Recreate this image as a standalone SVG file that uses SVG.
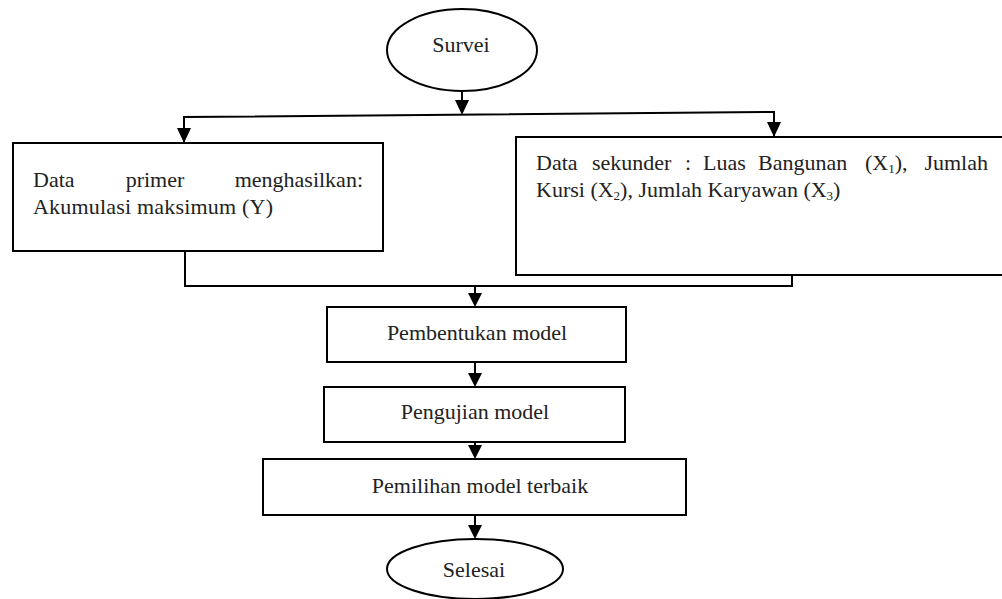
<svg xmlns="http://www.w3.org/2000/svg" width="1002" height="599" viewBox="0 0 1002 599">
<defs>
<style>
.box{fill:#fff;stroke:#000;stroke-width:2}
.ln{fill:none;stroke:#000;stroke-width:2}
.t{font-family:'Liberation Serif','Times New Roman',serif;font-size:22px;fill:#222}
.s{font-size:13px}
.c{text-anchor:middle}
.e{text-anchor:end}
.m{text-anchor:middle}
</style>
</defs>
<rect width="1002" height="599" fill="#fff"/>
<g id="connectors">
<path class="ln" d="M462,91 V101"/>
<path d="M455,100 L469,100 L462,115 Z" fill="#000"/>
<path class="ln" d="M184,143 V117 L774,112 V137"/>
<path d="M177,128 L191,128 L184,143 Z" fill="#000"/>
<path d="M767,122 L781,122 L774,137 Z" fill="#000"/>
<path class="ln" d="M185,251 V286 H792 V275"/>
<path class="ln" d="M475,286 V296"/>
<path d="M468,293 L482,293 L475,307 Z" fill="#000"/>
<path class="ln" d="M475,362 V376"/>
<path d="M468,373 L482,373 L475,387 Z" fill="#000"/>
<path class="ln" d="M475,442 V450"/>
<path d="M468,445 L482,445 L475,459 Z" fill="#000"/>
<path class="ln" d="M475,515 V528"/>
<path d="M468,525 L482,525 L475,539 Z" fill="#000"/>
</g>
<g id="survei">
<ellipse class="box" cx="462" cy="50" rx="75" ry="41"/>
<text class="t c" x="461" y="52">Survei</text>
</g>
<g id="primer">
<rect class="box" x="13" y="143" width="370" height="108"/>
<text class="t" x="33" y="187">Data</text>
<text class="t m" x="155" y="187">primer</text>
<text class="t e" x="363" y="187">menghasilkan:</text>
<text class="t" x="33" y="214" textLength="240" lengthAdjust="spacing">Akumulasi maksimum (Y)</text>
</g>
<g id="sekunder">
<rect class="box" x="516" y="137" width="500" height="138"/>
<text class="t" x="536" y="170">Data</text>
<text class="t" x="592" y="170">sekunder</text>
<text class="t" x="685" y="170">:</text>
<text class="t" x="703" y="170">Luas</text>
<text class="t" x="758" y="170">Bangunan</text>
<text class="t" x="865" y="170">(X<tspan class="s" dy="3">1</tspan><tspan dy="-3">),</tspan></text>
<text class="t e" x="988" y="170">Jumlah</text>
<text class="t" x="536" y="197">Kursi (X<tspan class="s" dy="3">2</tspan><tspan dy="-3">), Jumlah Karyawan (X</tspan><tspan class="s" dy="3">3</tspan><tspan dy="-3">)</tspan></text>
</g>
<g id="pembentukan">
<rect class="box" x="327" y="307" width="299" height="55"/>
<text class="t c" x="477" y="340">Pembentukan model</text>
</g>
<g id="pengujian">
<rect class="box" x="324" y="387" width="301" height="55"/>
<text class="t c" x="475" y="419">Pengujian model</text>
</g>
<g id="pemilihan">
<rect class="box" x="263" y="459" width="423" height="56"/>
<text class="t c" x="480" y="493">Pemilihan model terbaik</text>
</g>
<g id="selesai">
<ellipse class="box" cx="475" cy="569" rx="88" ry="30"/>
<text class="t c" x="474" y="577">Selesai</text>
</g>
</svg>
